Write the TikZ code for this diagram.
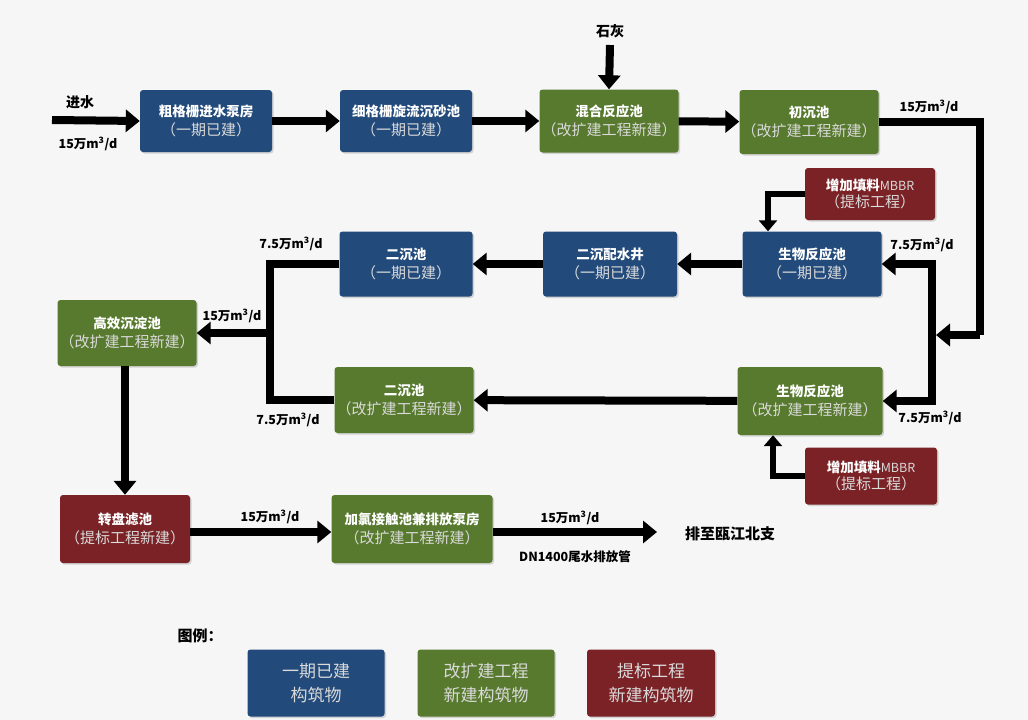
\documentclass[tikz,border=0pt]{standalone}
\usepackage{fontspec}
\setmainfont{Noto Sans CJK SC}
\usetikzlibrary{arrows.meta,shadows}
\definecolor{bg}{HTML}{F6F6F6}
\definecolor{cblue}{HTML}{224A7A}
\definecolor{cgreen}{HTML}{587A2E}
\definecolor{cred}{HTML}{7A2226}
\definecolor{subtxt}{HTML}{DADADA}
\newcommand\boxtitle[1]{{\bfseries\fontsize{13.5}{16}\selectfont #1}}
\newcommand\boxsub[1]{{\color{subtxt}\fontsize{15}{18}\selectfont #1}}
\newcommand\mbbr{{\mdseries\color{subtxt}\fontsize{12.5}{16}\selectfont MBBR}}
\tikzset{
  box/.style={rounded corners=3pt, align=center, text=white, inner sep=2pt,
    drop shadow={shadow xshift=1.5pt, shadow yshift=-1.5pt, opacity=0.3}},
  bluebox/.style={box, fill=cblue},
  greenbox/.style={box, fill=cgreen},
  redbox/.style={box, fill=cred},
  flow/.style={line width=8pt, -{Triangle[width=22pt,length=14pt]}},
  flowline/.style={line width=8pt},
  feed/.style={line width=6pt, -{Triangle[width=18pt,length=11pt]}},
  lbl/.style={font=\bfseries\fontsize{12.5}{14}\selectfont, inner sep=0pt},
  biglbl/.style={font=\bfseries\fontsize{15}{17}\selectfont, inner sep=0pt},
  legendtxt/.style={box, text=subtxt, font=\fontsize{17}{24}\selectfont, minimum width=137pt, minimum height=67pt},
}
\begin{document}
\begin{tikzpicture}[x=1pt,y=-1pt]
\path[fill=bg] (0,0) rectangle (1028,720);
% row 1
\node[bluebox, minimum width=132pt, minimum height=62pt] (A) at (206,121) {\boxtitle{粗格栅进水泵房}\\[4pt]\boxsub{（一期已建）}};
\node[bluebox, minimum width=132pt, minimum height=62pt] (B) at (406,121) {\boxtitle{细格栅旋流沉砂池}\\[4pt]\boxsub{（一期已建）}};
\node[greenbox, minimum width=138pt, minimum height=63pt] (C) at (609,121) {\boxtitle{混合反应池}\\[4pt]\boxsub{（改扩建工程新建）}};
\node[greenbox, minimum width=138pt, minimum height=64pt] (D) at (809,122) {\boxtitle{初沉池}\\[4pt]\boxsub{（改扩建工程新建）}};
% row 2
\node[redbox, minimum width=130pt, minimum height=52pt] (E) at (870,194) {\boxtitle{增加填料\mbbr}\\[2pt]\boxsub{（提标工程）}};
\node[bluebox, minimum width=139pt, minimum height=65pt] (F) at (812,264) {\boxtitle{生物反应池}\\[4pt]\boxsub{（一期已建）}};
\node[bluebox, minimum width=134pt, minimum height=65pt] (G) at (610,264) {\boxtitle{二沉配水井}\\[4pt]\boxsub{（一期已建）}};
\node[bluebox, minimum width=133pt, minimum height=65pt] (H) at (406,264) {\boxtitle{二沉池}\\[4pt]\boxsub{（一期已建）}};
% middle / row 3
\node[greenbox, minimum width=137pt, minimum height=66pt] (I) at (127,333) {\boxtitle{高效沉淀池}\\[4pt]\boxsub{（改扩建工程新建）}};
\node[greenbox, minimum width=138pt, minimum height=66pt] (J) at (404,400) {\boxtitle{二沉池}\\[4pt]\boxsub{（改扩建工程新建）}};
\node[greenbox, minimum width=145pt, minimum height=68pt] (K) at (810,401) {\boxtitle{生物反应池}\\[4pt]\boxsub{（改扩建工程新建）}};
\node[redbox, minimum width=132pt, minimum height=57pt] (L) at (871,476) {\boxtitle{增加填料\mbbr}\\[2pt]\boxsub{（提标工程）}};
% row 4
\node[redbox, minimum width=130pt, minimum height=68pt] (M) at (125,529) {\boxtitle{转盘滤池}\\[4pt]\boxsub{（提标工程新建）}};
\node[greenbox, minimum width=161pt, minimum height=68pt] (N) at (412,529) {\boxtitle{加氯接触池兼排放泵房}\\[4pt]\boxsub{（改扩建工程新建）}};
% coordinates
\coordinate (in) at (52,120);
\coordinate (lime) at (610,45);
\coordinate (rx) at (980,335);
\coordinate (split) at (932,335);
\coordinate (m1) at (768,0);
\coordinate (m2) at (773,0);
\coordinate (ls) at (270,333);
\coordinate (out) at (657,532);
% connectors
\draw[flow] (in) -- (A.west);
\draw[flow] (A) -- (B);
\draw[flow] (B) -- (C);
\draw[flow] (C) -- (D);
\draw[flow] (lime) -- (C.north);
\draw[flowline] (D.east) -| (rx);
\draw[flow] (rx) -- ([xshift=4pt]split);
\draw[flow] (split) |- (F.east);
\draw[flow] (split) |- (K.east);
\draw[feed] (E.west) -| (m1 |- F.north);
\draw[feed] (L.west) -| (m2 |- K.south);
\draw[flow] (F) -- (G);
\draw[flow] (G) -- (H);
\draw[flow] (K) -- (J);
\draw[flowline] (H.west) -| (ls);
\draw[flowline] (J.west) -| (ls);
\draw[flow] ([xshift=4pt]ls) -- (I.east);
\draw[flow] (M.north |- I.south) -- (M.north);
\draw[flow] (M.east |- 0,532) -- (N.west |- 0,532);
\draw[flow] (N.east |- out) -- (out);
% labels
\node[lbl, font=\bfseries\fontsize{14}{16}\selectfont] (t1) at (80,102) {进水};
\node[lbl] (t2) at (88,144) {15万m\textsuperscript{3}/d};
\node[lbl, font=\bfseries\fontsize{14}{16}\selectfont] (t3) at (610,31) {石灰};
\node[lbl] (t4) at (929,107) {15万m\textsuperscript{3}/d};
\node[lbl] (t5) at (922,245) {7.5万m\textsuperscript{3}/d};
\node[lbl] (t6) at (930,418) {7.5万m\textsuperscript{3}/d};
\node[lbl] (t7) at (291,244) {7.5万m\textsuperscript{3}/d};
\node[lbl] (t8) at (232,316) {15万m\textsuperscript{3}/d};
\node[lbl] (t9) at (288,420) {7.5万m\textsuperscript{3}/d};
\node[lbl] (t10) at (270,517) {15万m\textsuperscript{3}/d};
\node[lbl] (t11) at (570,518) {15万m\textsuperscript{3}/d};
\node[lbl] (t12) at (575,557) {DN1400尾水排放管};
\node[biglbl] (t13) at (730,534) {排至瓯江北支};
% legend
\node[biglbl] (lg) at (200,636) {图例：};
\node[legendtxt, fill=cblue] (L1) at (316,683) {一期已建\\构筑物};
\node[legendtxt, fill=cgreen] (L2) at (486,683) {改扩建工程\\新建构筑物};
\node[legendtxt, fill=cred, minimum width=128pt] (L3) at (651,683) {提标工程\\新建构筑物};
\end{tikzpicture}
\end{document}
